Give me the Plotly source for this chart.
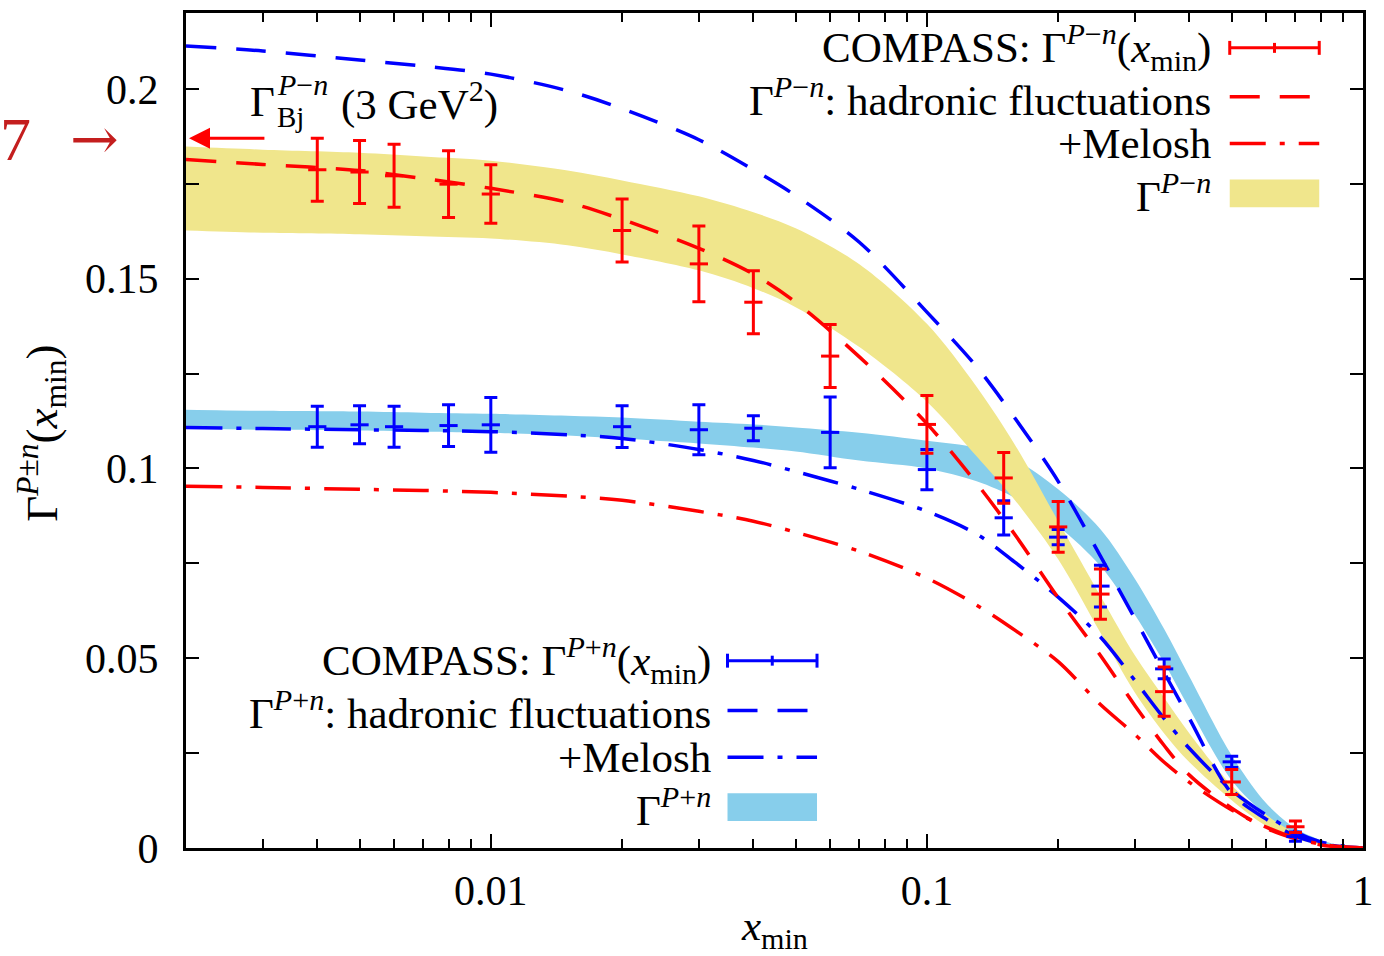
import math
import plotly.graph_objects as go

# ---------------------------------------------------------------- data
# x grid of the model curves
x_grid = [0.002, 0.003, 0.005, 0.007, 0.01, 0.015, 0.02, 0.03, 0.04, 0.05, 0.07,
          0.1, 0.13, 0.16, 0.2, 0.25, 0.3, 0.35, 0.4, 0.5, 0.6, 0.7, 0.8, 0.9, 1.0]

# Gamma^{P-n}: hadronic fluctuations (dashed) and +Melosh (dash-dot)
had_minus = [0.1814, 0.1801, 0.1785, 0.1764, 0.1738, 0.1701, 0.1656, 0.1580, 0.1512, 0.1438, 0.1294,
             0.1118, 0.0961, 0.0822, 0.0659, 0.0507, 0.0375, 0.0270, 0.0192, 0.0105, 0.0052, 0.0024,
             0.0008, 0.0002, 0.0]
mel_minus = [0.0953, 0.0950, 0.0945, 0.0942, 0.0937, 0.0927, 0.0916, 0.0887, 0.0861, 0.0832, 0.0782,
             0.0711, 0.0640, 0.0572, 0.0491, 0.0378, 0.0299, 0.0226, 0.0173, 0.0100, 0.0055, 0.0026,
             0.0010, 0.0003, 0.0]
# Gamma^{P+n}: hadronic fluctuations (dashed) and +Melosh (dash-dot)
had_plus = [0.2113, 0.2100, 0.2076, 0.2060, 0.2039, 0.1995, 0.1948, 0.1866, 0.1787, 0.1719, 0.1596,
            0.1412, 0.1268, 0.1129, 0.0966, 0.0769, 0.0604, 0.0462, 0.0341, 0.0144, 0.0076, 0.0031,
            0.0012, 0.0003, 0.0]
mel_plus = [0.1108, 0.1105, 0.1102, 0.1100, 0.1097, 0.1089, 0.1079, 0.1050, 0.1021, 0.0992, 0.0945,
            0.0887, 0.0827, 0.0751, 0.0661, 0.0556, 0.0441, 0.0341, 0.0262, 0.0152, 0.0087, 0.0042,
            0.0016, 0.0005, 0.0]

# uncertainty bands
band_minus_hi = [0.1848, 0.1840, 0.1832, 0.1822, 0.1811, 0.1785, 0.1759, 0.1717, 0.1675, 0.1633, 0.1538,
                 0.1381, 0.1215, 0.1058, 0.0861, 0.0664, 0.0507, 0.0396, 0.0302, 0.0165, 0.0087, 0.0039,
                 0.0014, 0.0003, 0.0]
band_minus_lo = [0.1627, 0.1621, 0.1617, 0.1612, 0.1606, 0.1588, 0.1564, 0.1522, 0.1475, 0.1425, 0.1320,
                 0.1176, 0.1032, 0.0913, 0.0761, 0.0567, 0.0409, 0.0302, 0.0226, 0.0126, 0.0058, 0.0024,
                 0.0009, 0.0002, 0.0]
band_plus_hi = [0.1155, 0.1152, 0.1150, 0.1147, 0.1144, 0.1139, 0.1134, 0.1123, 0.1116, 0.1108, 0.1094,
                0.1073, 0.1055, 0.1021, 0.0945, 0.0840, 0.0709, 0.0577, 0.0451, 0.0244, 0.0118, 0.0052,
                0.0021, 0.0005, 0.0]
band_plus_lo = [0.1105, 0.1102, 0.1100, 0.1097, 0.1094, 0.1087, 0.1079, 0.1066, 0.1055, 0.1045, 0.1021,
                0.1000, 0.0966, 0.0921, 0.0848, 0.0743, 0.0614, 0.0488, 0.0367, 0.0178, 0.0087, 0.0034,
                0.0013, 0.0003, 0.0]

# COMPASS truncated moments
x_data = [0.004, 0.005, 0.006, 0.008, 0.01, 0.02, 0.03, 0.04, 0.06, 0.1, 0.15, 0.2, 0.25, 0.35, 0.5, 0.7]
compass_minus = [0.1787, 0.1781, 0.1771, 0.1749, 0.1723, 0.1627, 0.1539, 0.1438, 0.1296, 0.1116,
                 0.0975, 0.0846, 0.0669, 0.0412, 0.0174, 0.0056]
compass_minus_err = [0.0083, 0.0083, 0.0083, 0.0088, 0.0077, 0.0083, 0.0100, 0.0083, 0.0083, 0.0076,
                     0.0067, 0.0067, 0.0066, 0.0065, 0.0033, 0.0015]
compass_plus = [0.1110, 0.1115, 0.1110, 0.1113, 0.1115, 0.1110, 0.1102, 0.1106, 0.1095, 0.0997,
                0.0870, 0.0819, 0.0690, 0.0472, 0.0227, 0.0030]
compass_plus_err = [0.0054, 0.0050, 0.0054, 0.0055, 0.0072, 0.0055, 0.0066, 0.0033, 0.0093, 0.0053,
                    0.0045, 0.0020, 0.0055, 0.0026, 0.0015, 0.0012]

# Bjorken sum at 3 GeV^2
bj_sum = 0.187

x_ticks = [0.01, 0.1, 1]
x_ticktext = ["0.01", "0.1", "1"]
y_ticks = [0, 0.05, 0.1, 0.15, 0.2]
y_ticktext = ["0", "0.05", "0.1", "0.15", "0.2"]

# ---------------------------------------------------------------- style
RED = "#ff0000"
BLUE = "#0000ff"
KHAKI = "#f0e68c"
SKY = "#87ceeb"
DARKRED = "#c41e1e"
FONT = "Liberation Serif"
FS = 42       # tick labels
FL = 43       # legend and titles
DASH = "30px,20px"
DASHDOT = "36px,14px,5px,14px"
LW = 3.5

W, H = 1384, 956
L, R, T, B = 185.5, 1369.0, 10.0, 848.0   # plot frame in page pixels


def px(x):
    return (x - L) / (R - L)


def py(y):
    return (B - y) / (B - T)


fig = go.Figure()


def add_band(hi, lo, color):
    fig.add_trace(go.Scatter(
        x=x_grid + x_grid[::-1], y=hi + lo[::-1], mode="lines",
        fill="toself", fillcolor=color,
        line=dict(width=0, color=color, shape="spline", smoothing=0.9),
        hoverinfo="skip", showlegend=False))


def add_curve(y, color, dash):
    fig.add_trace(go.Scatter(
        x=x_grid, y=y, mode="lines",
        line=dict(color=color, width=LW, dash=dash, shape="spline", smoothing=0.9),
        showlegend=False))


def add_points(y, err, color):
    fig.add_trace(go.Scatter(
        x=x_data, y=y, mode="markers",
        marker=dict(symbol="line-ew", size=13, color=color, line=dict(color=color, width=3)),
        error_y=dict(type="data", array=err, color=color, thickness=3, width=6.5),
        showlegend=False))


add_band(band_plus_hi, band_plus_lo, SKY)
add_band(band_minus_hi, band_minus_lo, KHAKI)
add_curve(had_plus, BLUE, DASH)
add_curve(mel_plus, BLUE, DASHDOT)
add_curve(had_minus, RED, DASH)
add_curve(mel_minus, RED, DASHDOT)
add_points(compass_plus, compass_plus_err, BLUE)
add_points(compass_minus, compass_minus_err, RED)

shapes = []
annotations = []


def text(x, y, s, size=FL, anchor="right", color="black", angle=0, family=FONT):
    annotations.append(dict(
        x=px(x), y=py(y), xref="paper", yref="paper", text=s, showarrow=False,
        xanchor=anchor, yanchor="middle", textangle=angle, borderpad=0,
        font=dict(family=family, size=size, color=color)))


def seg(x0, y0, x1, y1, color, dash="solid", width=LW):
    shapes.append(dict(type="line", xref="paper", yref="paper",
                       x0=px(x0), y0=py(y0), x1=px(x1), y1=py(y1),
                       line=dict(color=color, width=width, dash=dash)))


def legend_block(x_text, x0, x1, rows, sign, color, fill):
    g = "Γ<sup><i>P</i>%s<i>n</i></sup>" % sign
    y_err, y_dash, y_dd, y_box = rows
    text(x_text, y_err, "COMPASS: %s(<i>x</i><sub>min</sub>)" % g)
    seg(x0, y_err, x1, y_err, color, width=3)
    for xx, h in ((x0, 7), (x1, 7), ((x0 + x1) / 2, 5)):
        seg(xx, y_err - h, xx, y_err + h, color, width=3)
    text(x_text, y_dash, "%s: hadronic fluctuations" % g)
    seg(x0, y_dash, x1, y_dash, color, DASH)
    text(x_text, y_dd, "+Melosh")
    seg(x0, y_dd, x1, y_dd, color, DASHDOT)
    text(x_text, y_box, g)
    shapes.append(dict(type="rect", xref="paper", yref="paper",
                       x0=px(x0), x1=px(x1), y0=py(y_box + 14), y1=py(y_box - 14),
                       fillcolor=fill, line=dict(width=0)))


legend_block(1217, 1235, 1325, (45, 94, 141, 191), "−", RED, KHAKI)
legend_block(714, 730, 820, (660, 710, 757, 807), "+", BLUE, SKY)

# Bjorken sum label and arrow
text(249, 99, "Γ", anchor="left")
text(276, 82, "<i>P</i>−<i>n</i>", size=30, anchor="left")
text(276, 114, "Bj", size=29, anchor="left")
text(340, 99, "(3 GeV<sup>2</sup>)", anchor="left")
annotations.append(dict(
    x=math.log10(0.002), y=bj_sum, xref="x", yref="y",
    ax=math.log10(0.00305), ay=bj_sum, axref="x", ayref="y",
    showarrow=True, arrowhead=2, arrowsize=1.4, arrowwidth=3, arrowcolor=RED,
    standoff=3, text=""))

# margin note
text(14, 136, "7", size=62, anchor="center", color=DARKRED)
text(93, 136, "→", size=58, anchor="center", color=DARKRED, family="DejaVu Serif")

# axis titles
text(40, 432, "Γ<sup><i>P</i>±<i>n</i></sup>(<i>x</i><sub>min</sub>)", size=45, anchor="center", angle=-90)
text(777, 929, "<i>x</i><sub>min</sub>", anchor="center")

x_minor = [m * 10 ** e for e in (-3, -2, -1) for m in range(2, 10) if m * 10 ** e >= 0.002]

fig.update_layout(
    width=W, height=H,
    margin=dict(l=L, r=W - R, t=T, b=H - B, pad=0),
    paper_bgcolor="white", plot_bgcolor="white",
    font=dict(family=FONT, size=FS, color="black"),
    showlegend=False,
    shapes=shapes, annotations=annotations,
    xaxis=dict(
        type="log", range=[math.log10(0.002), 0],
        tickvals=x_ticks, ticktext=x_ticktext,
        ticks="inside", ticklen=14, tickwidth=2, tickcolor="black",
        minor=dict(tickvals=x_minor, ticks="inside", ticklen=9, tickwidth=2, tickcolor="black"),
        showline=True, linewidth=3, linecolor="black", mirror="allticks",
        showgrid=False, zeroline=False, ticklabelstandoff=4,
        tickfont=dict(family=FONT, size=FS)),
    yaxis=dict(
        range=[0, 0.22],
        tickvals=y_ticks, ticktext=y_ticktext,
        ticks="inside", ticklen=13, tickwidth=2, tickcolor="black",
        minor=dict(tickvals=[0.025, 0.075, 0.125, 0.175], ticks="inside", ticklen=13,
                   tickwidth=2, tickcolor="black"),
        showline=True, linewidth=3, linecolor="black", mirror="allticks",
        showgrid=False, zeroline=False, ticklabelstandoff=16,
        tickfont=dict(family=FONT, size=FS)),
)

fig.write_html("out.html")
